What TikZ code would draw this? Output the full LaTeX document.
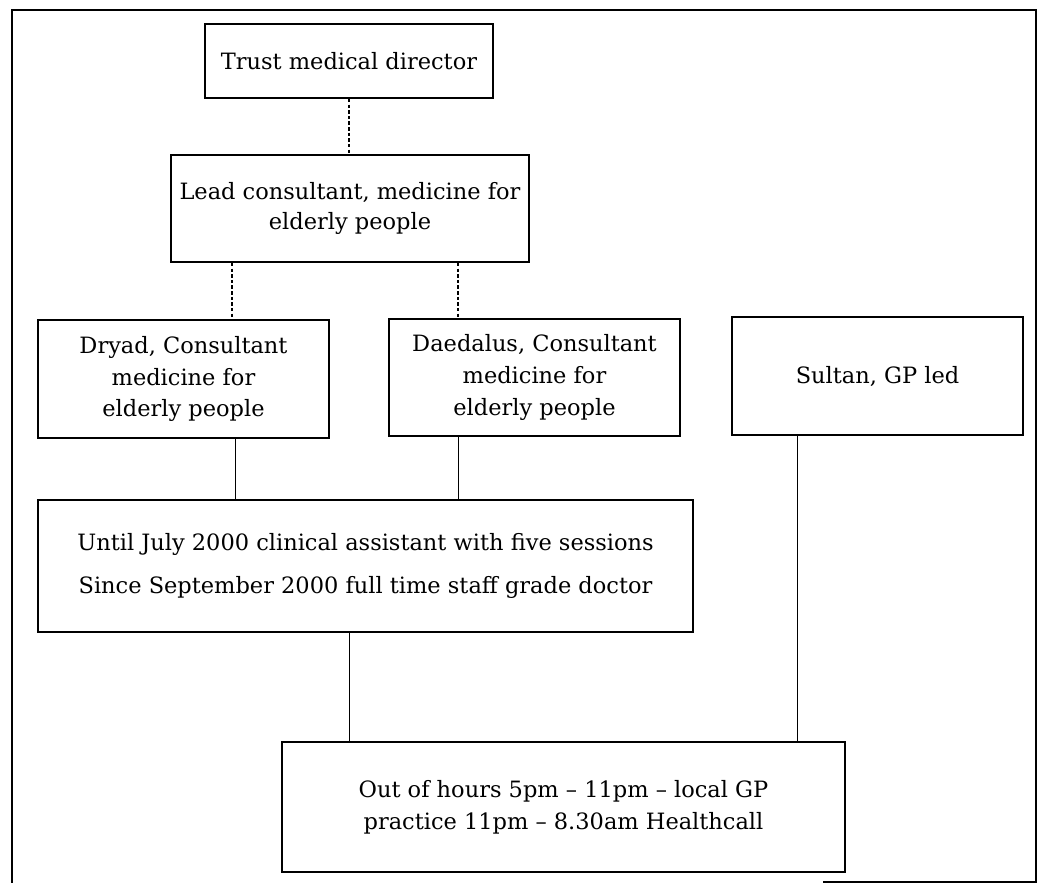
\documentclass[tikz,border=0pt]{standalone}
\usepackage{tikz}
\usepackage{fontspec}
\setmainfont{DejaVu Serif}
\usetikzlibrary{positioning, calc}

\begin{document}
\begin{tikzpicture}[
    box/.style={rectangle, draw, line width=1.3pt, align=center,
                inner sep=0pt, font=\fontsize{16}{22.5}\selectfont},
    link/.style={line width=0.9pt},
    dlink/.style={line width=0.9pt, dash pattern=on 2.5pt off 1.5pt}]

    \useasboundingbox (0,0) rectangle (25.95,-22.075);

    % Outer frame
    \draw[line width=1.2pt] (20.575,-22.05) -- (25.9,-22.05) -- (25.9,-0.25) -- (0.3,-0.25) -- (0.3,-22.075);

    % Management
    \node[box, minimum width=7.2cm, minimum height=1.85cm] (director) at (8.725,-1.525) {Trust medical director};
    \node[box, minimum width=8.95cm, minimum height=2.675cm, font=\fontsize{16}{21.3}\selectfont] (lead) at (8.75,-5.2125) {Lead consultant, medicine for\\elderly people};

    % Wards
    \node[box, minimum width=7.275cm, minimum height=2.95cm] (dryad) at (4.5875,-9.475) {Dryad, Consultant\\medicine for\\elderly people};
    \node[box, minimum width=7.275cm, minimum height=2.925cm] (daedalus) at (13.3625,-9.4375) {Daedalus, Consultant\\medicine for\\elderly people};
    \node[box, minimum width=7.275cm, minimum height=2.95cm] (sultan) at (21.9375,-9.4) {Sultan, GP led};

    % Staff grade
    \node[box, minimum width=16.375cm, minimum height=3.3cm, font=\fontsize{16}{30}\selectfont] (staff) at (9.1375,-14.15) {Until July 2000 clinical assistant with five sessions\\Since September 2000 full time staff grade doctor};

    % Out of hours
    \node[box, minimum width=14.075cm, minimum height=3.25cm] (ooh) at (14.0875,-20.175) {Out of hours 5pm -- 11pm -- local GP\\practice 11pm -- 8.30am Healthcall};

    % Links
    \draw[dlink] (director.south) -- (director.south |- lead.north);
    \draw[dlink] ([xshift=1.55cm]lead.south west) -- ([xshift=1.55cm]lead.south west |- dryad.north);
    \draw[dlink] ([xshift=-1.8cm]lead.south east) -- ([xshift=-1.8cm]lead.south east |- daedalus.north);
    \draw[link] ([xshift=1.3cm]dryad.south) -- ([xshift=1.3cm]dryad.south |- staff.north);
    \draw[link] ([xshift=-1.9cm]daedalus.south) -- ([xshift=-1.9cm]daedalus.south |- staff.north);
    \draw[link] ([xshift=-0.4cm]staff.south) -- ([xshift=-0.4cm]staff.south |- ooh.north);
    \draw[link] ([xshift=-2cm]sultan.south) -- ([xshift=-2cm]sultan.south |- ooh.north);
\end{tikzpicture}
\end{document}
